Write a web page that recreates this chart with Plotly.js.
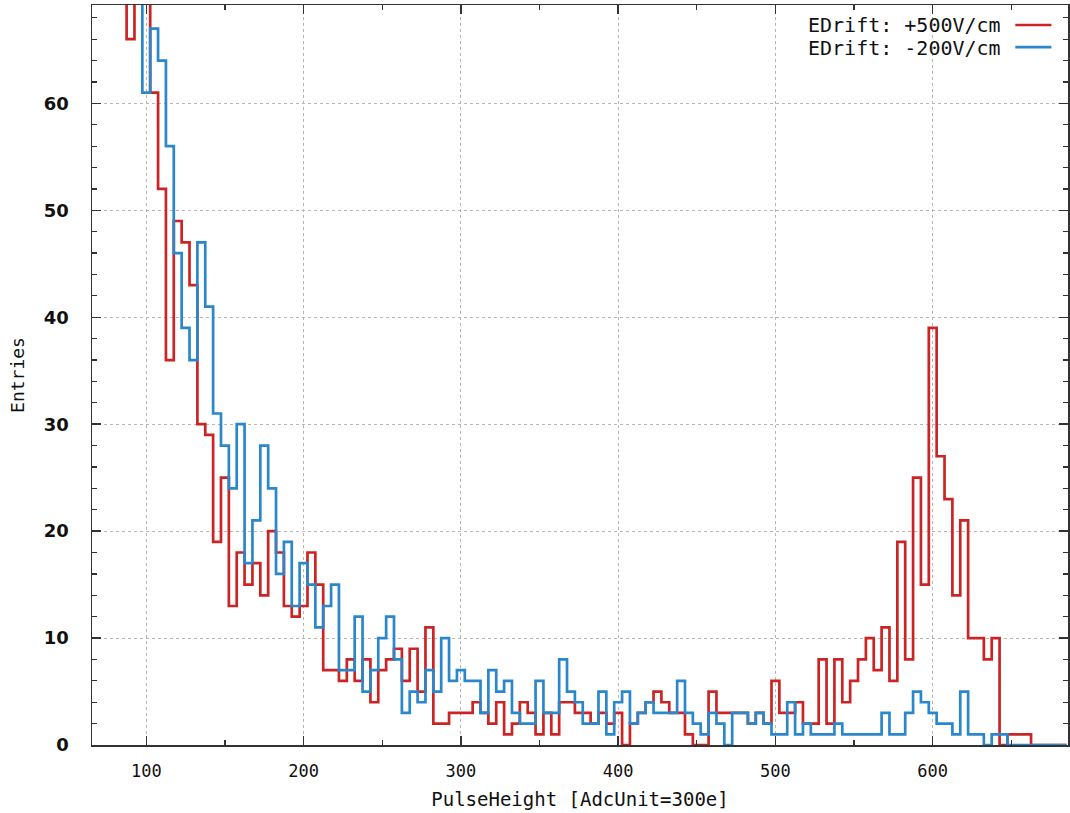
<!DOCTYPE html>
<html>
<head>
<meta charset="utf-8">
<script src="https://cdn.plot.ly/plotly-3.0.1.min.js"></script>
<style>html,body{margin:0;padding:0;background:#fff;}#chart{width:1070px;height:813px;}</style>
</head>
<body>
<div id="chart"></div>
<script>
// Bin centres (PulseHeight, ADC units), bin width 5
const binCenters = [
  65,70,75,80,85,90,95,100,105,110,
  115,120,125,130,135,140,145,150,155,160,
  165,170,175,180,185,190,195,200,205,210,
  215,220,225,230,235,240,245,250,255,260,
  265,270,275,280,285,290,295,300,305,310,
  315,320,325,330,335,340,345,350,355,360,
  365,370,375,380,385,390,395,400,405,410,
  415,420,425,430,435,440,445,450,455,460,
  465,470,475,480,485,490,495,500,505,510,
  515,520,525,530,535,540,545,550,555,560,
  565,570,575,580,585,590,595,600,605,610,
  615,620,625,630,635,640,645,650,655,660,
  665,670,675,680,685
];
// EDrift +500 V/cm (red)
const entriesPlus500 = [
  150,132,118,100,84,66,78,72,61,52,
  36,49,47,43,30,29,19,25,13,18,
  15,17,14,20,18,13,12,13,18,15,
  7,7,6,8,6,8,4,7,8,9,
  6,9,5,11,2,2,3,3,3,4,
  3,2,4,1,2,4,3,1,3,1,
  4,4,3,3,2,3,2,3,0,2,
  3,4,5,4,3,3,1,0,0,5,
  3,3,3,3,2,3,2,6,3,3,
  4,2,2,8,2,8,4,6,8,10,
  7,11,6,19,8,25,15,39,27,23,
  14,21,10,10,8,10,0,1,1,1,
  0,0,0,0,0
];
// EDrift -200 V/cm (blue)
const entriesMinus200 = [
  165,145,126,108,95,84,75,61,67,64,
  56,46,39,36,47,41,31,28,24,30,
  17,21,28,24,16,19,13,17,15,11,
  13,15,7,7,12,5,7,10,12,8,
  3,5,4,7,5,10,6,7,6,6,
  3,7,5,6,3,2,2,6,3,3,
  8,5,4,2,2,5,1,4,5,2,
  3,4,3,3,3,6,3,2,1,3,
  2,0,3,3,2,3,2,1,1,4,
  1,2,1,1,1,2,1,1,1,1,
  1,3,1,1,3,5,4,3,2,2,
  1,5,1,1,0,1,1,0,0,0,
  0,0,0,0,0
];
const seriesNames = ['EDrift: +500V/cm', 'EDrift: -200V/cm'];
const seriesColors = ['#cc2424', '#2a87cc'];
const xTickVals = [100,200,300,400,500,600];
const yTickVals = [0,10,20,30,40,50,60];

const traces = [
  {x: binCenters, y: entriesPlus500, name: seriesNames[0], type: 'scatter', mode: 'lines',
   line: {shape: 'hvh', color: seriesColors[0], width: 2.7}},
  {x: binCenters, y: entriesMinus200, name: seriesNames[1], type: 'scatter', mode: 'lines',
   line: {shape: 'hvh', color: seriesColors[1], width: 2.7}}
];

const axisCommon = {
  showline: true, linecolor: '#333', linewidth: 1.5, mirror: 'ticks',
  ticks: 'inside', ticklen: 9, tickwidth: 1.5, tickcolor: '#333',
  showgrid: true, gridcolor: '#bdb5ad', griddash: 'dot', gridwidth: 1,
  zeroline: false
};

const layout = {
  width: 1070, height: 813,
  margin: {l: 92, r: 2, t: 5, b: 68},
  paper_bgcolor: '#fff', plot_bgcolor: '#fff',
  showlegend: false,
  xaxis: Object.assign({}, axisCommon, {
    range: [65.5, 686],
    tickvals: xTickVals,
    minor: {dtick: 50, tick0: 0, ticks: 'inside', ticklen: 5, tickcolor: '#333', tickwidth: 1.2, showgrid: false},
    tickfont: {family: 'DejaVu Sans Mono', size: 17, color: '#111'},
    ticklabelstandoff: 10,
    title: {text: 'PulseHeight [AdcUnit=300e]', font: {family: 'DejaVu Sans Mono', size: 19, color: '#111'}, standoff: 13}
  }),
  yaxis: Object.assign({}, axisCommon, {
    range: [0, 69.2],
    tickvals: yTickVals,
    minor: {dtick: 2, tick0: 0, ticks: 'inside', ticklen: 5, tickcolor: '#333', tickwidth: 1.2, showgrid: false},
    tickfont: {family: 'DejaVu Sans', size: 18, color: '#111', weight: 'bold'},
    ticklabelstandoff: 18,
    title: {text: 'Entries', font: {family: 'DejaVu Sans Mono', size: 18, color: '#111'}, standoff: 14}
  }),
  shapes: [
    {type: 'rect', xref: 'paper', yref: 'paper', x0: 0.71, x1: 0.994, y0: 0.928, y1: 0.996,
     fillcolor: '#fff', line: {width: 0}, layer: 'between'},
    {type: 'line', xref: 'paper', yref: 'paper', x0: 0.946, x1: 0.983, y0: 0.973, y1: 0.973,
     line: {color: seriesColors[0], width: 2.7}},
    {type: 'line', xref: 'paper', yref: 'paper', x0: 0.946, x1: 0.983, y0: 0.943, y1: 0.943,
     line: {color: seriesColors[1], width: 2.7}}
  ],
  annotations: [
    {text: seriesNames[0], xref: 'paper', yref: 'paper', x: 0.933, y: 0.973, xanchor: 'right', yanchor: 'middle',
     showarrow: false, height: 21, font: {family: 'DejaVu Sans Mono', size: 20, color: '#111'}},
    {text: seriesNames[1], xref: 'paper', yref: 'paper', x: 0.933, y: 0.943, xanchor: 'right', yanchor: 'middle',
     showarrow: false, height: 21, font: {family: 'DejaVu Sans Mono', size: 20, color: '#111'}}
  ]
};

Plotly.newPlot('chart', traces, layout, {displayModeBar: false, staticPlot: true});
</script>
</body>
</html>
